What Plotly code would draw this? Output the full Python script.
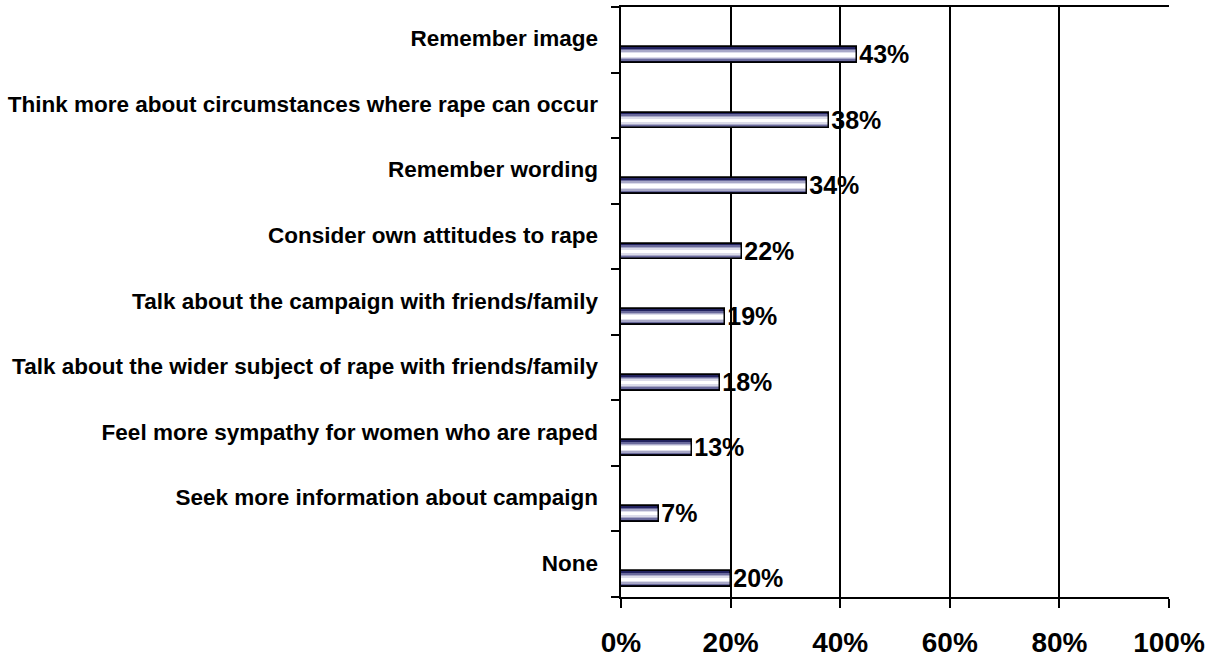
import plotly.graph_objects as go

categories = [
    "Remember image",
    "Think more about circumstances where rape can occur",
    "Remember wording",
    "Consider own attitudes to rape",
    "Talk about the campaign with friends/family",
    "Talk about the wider subject of rape with friends/family",
    "Feel more sympathy for women who are raped",
    "Seek more information about campaign",
    "None",
]
values = [43, 38, 34, 22, 19, 18, 13, 7, 20]
x_ticks = [0, 20, 40, 60, 80, 100]
x_tick_labels = ["0%", "20%", "40%", "60%", "80%", "100%"]

n = len(categories)
centers = [n - 1 - i for i in range(n)]
bar_pos = [c - 0.23 for c in centers]
bw = 0.24

fig = go.Figure()
layers = [
    (1.0, "#22225f", dict(color="black", width=1.5)),
    (0.78, "#6a6a9c", dict(width=0)),
    (0.58, "#a9a9c8", dict(width=0)),
    (0.40, "#dcdcea", dict(width=0)),
    (0.22, "#ffffff", dict(width=0)),
]
for k, (f, col, ln) in enumerate(layers):
    fig.add_trace(go.Bar(
        x=values, y=bar_pos, orientation="h", width=bw * f,
        marker=dict(color=col, line=ln), showlegend=False, hoverinfo="skip",
        text=[f"{v}%" for v in values] if k == 0 else None,
        textposition="outside" if k == 0 else "none",
        constraintext="none",
        textfont=dict(family="Liberation Sans", size=25, color="black", weight="bold"),
        cliponaxis=False,
    ))
# outline on top
fig.add_trace(go.Bar(
    x=values, y=bar_pos, orientation="h", width=bw,
    marker=dict(color="rgba(0,0,0,0)", line=dict(color="black", width=1.5)),
    showlegend=False, hoverinfo="skip", textposition="none",
))
# invisible trace for label axis
fig.add_trace(go.Scatter(x=[0], y=[0], yaxis="y2", mode="markers",
                         marker=dict(opacity=0), showlegend=False, hoverinfo="skip"))

boundaries = [k + 0.5 for k in range(-1, n)]
fig.update_layout(
    width=1221, height=663,
    margin=dict(l=621, r=52, t=5, b=62),
    paper_bgcolor="white", plot_bgcolor="white",
    barmode="overlay",
    bargap=0,
    font=dict(family="Liberation Sans", color="black"),
    xaxis=dict(
        range=[0, 100], tickvals=x_ticks, ticktext=x_tick_labels,
        showgrid=True, gridcolor="black", gridwidth=1.5,
        showline=True, linecolor="black", linewidth=1.5, mirror=True,
        ticks="outside", ticklen=9, tickwidth=1.5, tickcolor="black",
        tickfont=dict(family="Liberation Sans", size=28, color="black", weight="bold"),
        ticklabelstandoff=11, zeroline=False,
    ),
    yaxis=dict(
        range=[-0.5, n - 0.5], tickvals=boundaries, ticktext=[""] * len(boundaries),
        showgrid=False, showline=True, linecolor="black", linewidth=1.5,
        ticks="outside", ticklen=8, tickwidth=1.5, tickcolor="black", zeroline=False,
    ),
    yaxis2=dict(
        range=[-0.5, n - 0.5], overlaying="y", side="left",
        tickvals=[c + 0.02 for c in centers], ticktext=categories,
        ticks="", showgrid=False, showline=False, zeroline=False,
        tickfont=dict(family="Liberation Sans", size=22.5, color="black", weight="bold"),
        ticklabelstandoff=22,
    ),
)
fig.write_html("out.html")
